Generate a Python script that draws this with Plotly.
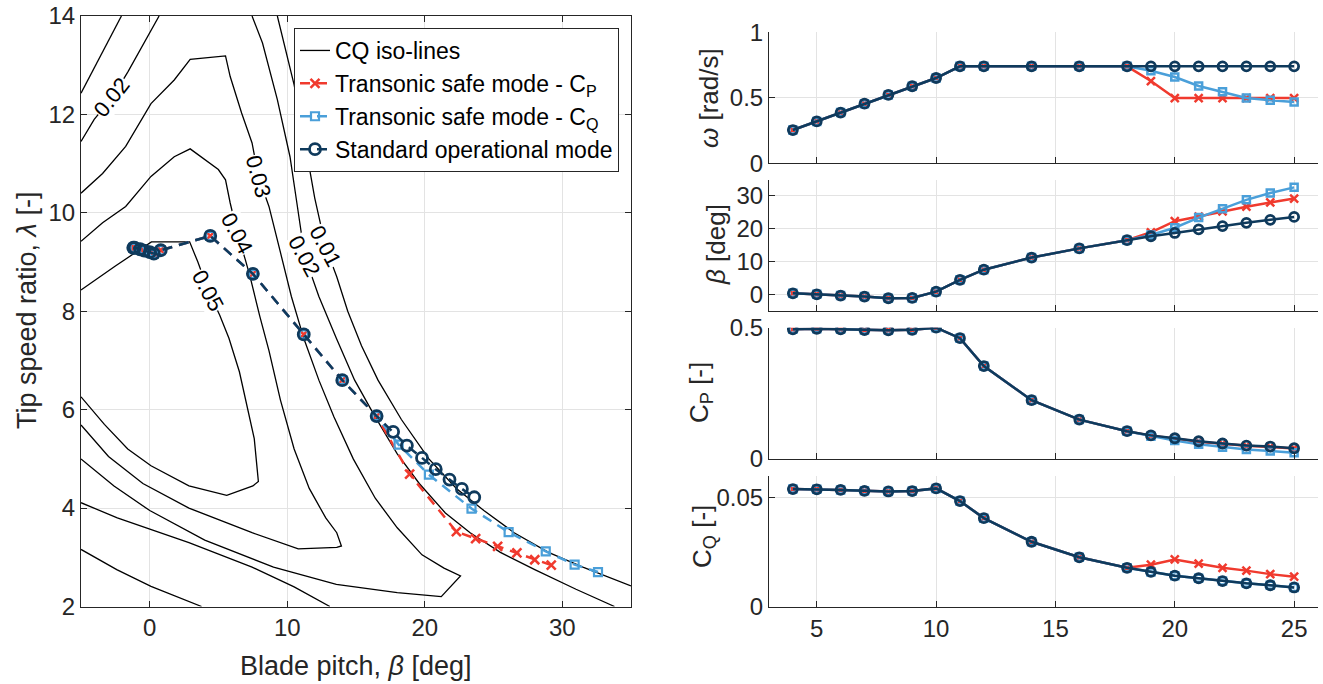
import plotly.graph_objects as go

# ---------------- data ----------------
wind_speed = [4, 5, 6, 7, 8, 9, 10, 11, 12, 14, 16, 18, 19, 20, 21, 22, 23, 24, 25]

omega_std = [0.254, 0.32, 0.387, 0.455, 0.522, 0.588, 0.651, 0.74, 0.74, 0.74, 0.74, 0.74, 0.74, 0.74, 0.74, 0.74, 0.74, 0.74, 0.74]
omega_tcp = [0.254, 0.32, 0.387, 0.455, 0.522, 0.588, 0.651, 0.74, 0.74, 0.74, 0.74, 0.74, 0.628, 0.498, 0.498, 0.498, 0.498, 0.498, 0.498]
omega_tcq = [0.254, 0.32, 0.387, 0.455, 0.522, 0.588, 0.651, 0.74, 0.74, 0.74, 0.74, 0.74, 0.707, 0.659, 0.59, 0.547, 0.499, 0.481, 0.468]

beta_std = [0.3, 0.0, -0.4, -0.7, -1.2, -1.1, 0.8, 4.4, 7.5, 11.2, 14.0, 16.5, 17.7, 18.7, 19.8, 20.8, 21.8, 22.7, 23.6]
beta_tcp = [0.3, 0.0, -0.4, -0.7, -1.2, -1.1, 0.8, 4.4, 7.5, 11.2, 14.0, 16.5, 18.9, 22.3, 23.7, 25.3, 26.7, 28.0, 29.2]
beta_tcq = [0.3, 0.0, -0.4, -0.7, -1.2, -1.1, 0.8, 4.4, 7.5, 11.2, 14.0, 16.5, 18.1, 20.3, 23.4, 26.1, 28.8, 30.9, 32.6]

tsr_std = [9.17, 9.2, 9.23, 9.26, 9.29, 9.29, 9.24, 9.53, 8.76, 7.53, 6.6, 5.87, 5.55, 5.27, 5.02, 4.79, 4.58, 4.39, 4.22]
tsr_tcp = [9.17, 9.2, 9.23, 9.26, 9.29, 9.29, 9.24, 9.53, 8.76, 7.53, 6.6, 5.87, 4.69, 3.52, 3.38, 3.22, 3.09, 2.95, 2.84]
tsr_tcq = [9.17, 9.2, 9.23, 9.26, 9.29, 9.29, 9.24, 9.53, 8.76, 7.53, 6.6, 5.87, 5.29, 4.68, 3.99, 3.51, 3.12, 2.85, 2.7]

cp_std = [0.494, 0.496, 0.494, 0.491, 0.49, 0.492, 0.5, 0.46, 0.354, 0.224, 0.15, 0.106, 0.09, 0.079, 0.0675, 0.059, 0.051, 0.0475, 0.041]
cp_tcp = [0.494, 0.496, 0.494, 0.491, 0.49, 0.492, 0.5, 0.46, 0.354, 0.224, 0.15, 0.106, 0.089, 0.078, 0.066, 0.058, 0.05, 0.046, 0.04]
cp_tcq = [0.494, 0.496, 0.494, 0.491, 0.49, 0.492, 0.5, 0.46, 0.354, 0.224, 0.15, 0.106, 0.087, 0.07, 0.056, 0.045, 0.036, 0.03, 0.024]

cq_std = [0.0538, 0.0537, 0.0534, 0.053, 0.0527, 0.0529, 0.0541, 0.0483, 0.0405, 0.0297, 0.0226, 0.0178, 0.0159, 0.0142, 0.013, 0.0117, 0.0107, 0.0098, 0.0088]
cq_tcp = [0.0538, 0.0537, 0.0534, 0.053, 0.0527, 0.0529, 0.0541, 0.0483, 0.0405, 0.0297, 0.0226, 0.0178, 0.0192, 0.0216, 0.0197, 0.0178, 0.0165, 0.0149, 0.0137]
cq_tcq = [0.0538, 0.0537, 0.0534, 0.053, 0.0527, 0.0529, 0.0541, 0.0483, 0.0405, 0.0297, 0.0226, 0.0178, 0.0159, 0.0142, 0.013, 0.0117, 0.0107, 0.0098, 0.0088]

# CQ iso-lines (blade pitch [deg], tip speed ratio [-])
iso001_left_beta = [-2.06, -3.3, -4.49, -5.0]
iso001_left_tsr = [14.0, 13.33, 12.7, 12.43]
iso002_left_beta = [0.68, -0.4, -1.58, -2.7, -4.04, -5.0]
iso002_left_tsr = [14.0, 13.45, 12.87, 12.35, 11.9, 11.45]
iso003_beta = [-5.0, -3.43, -1.75, 0.09, 1.78, 2.94, 5.51, 5.85, 6.68, 7.44, 7.9, 8.67, 9.5, 10.3, 11.2, 12.3, 13.4, 14.8, 16.4, 18.0, 19.8, 21.4, 22.6, 21.2, 18.0, 13.57, 9.0, 4.0, 0.0, -2.6, -5.0]
iso003_tsr = [10.4, 10.8, 11.35, 12.22, 12.7, 13.12, 13.19, 12.77, 12.03, 11.42, 10.74, 10.13, 9.2, 8.3, 7.45, 6.6, 5.85, 5.0, 4.2, 3.6, 3.05, 2.78, 2.62, 2.2, 2.28, 2.45, 2.8, 3.35, 3.95, 4.45, 5.0]
iso004_beta = [-5.0, -3.43, -1.75, 0.09, 1.78, 2.94, 4.99, 5.51, 5.85, 6.37, 6.96, 7.3, 8.0, 8.67, 9.5, 10.5, 11.6, 12.8, 13.6, 13.94, 13.6, 10.8, 7.44, 2.85, -0.5, -3.0, -5.0]
iso004_tsr = [9.42, 9.8, 10.13, 10.74, 11.14, 11.3, 10.88, 10.67, 10.2, 9.59, 9.04, 8.7, 7.9, 7.2, 6.2, 5.2, 4.4, 3.8, 3.5, 3.23, 3.2, 3.17, 3.5, 4.0, 4.5, 5.05, 5.69]
iso005_beta = [-5.0, -2.5, 0.12, 2.9, 3.5, 4.24, 5.09, 5.76, 6.52, 7.1, 7.6, 7.9, 7.5, 5.6, 2.85, 0.09, -1.6, -3.3, -5.0]
iso005_tsr = [8.43, 8.92, 9.41, 9.41, 9.0, 8.43, 7.92, 7.45, 6.77, 6.0, 5.41, 4.54, 4.45, 4.26, 4.45, 4.86, 5.2, 5.7, 6.26]
iso002_right_beta = [7.44, 8.2, 9.28, 10.2, 10.7, 11.27, 12.3, 13.57, 14.9, 16.3, 18.0, 19.6, 21.5, 23.3, 25.5, 28.0, 31.0, 33.8]
iso002_right_tsr = [14.0, 13.45, 12.3, 11.14, 10.2, 9.12, 8.3, 7.45, 6.6, 5.9, 5.1, 4.5, 3.9, 3.5, 3.1, 2.75, 2.35, 2.0]
iso001_right_beta = [9.28, 9.9, 10.5, 11.3, 12.0, 12.8, 13.6, 14.4, 15.4, 16.6, 18.3, 20.3, 22.3, 24.3, 26.5, 29.0, 31.5, 35.0]
iso001_right_tsr = [14.0, 13.3, 12.6, 11.4, 10.3, 9.3, 8.7, 8.0, 7.3, 6.6, 5.8, 5.0, 4.4, 3.95, 3.5, 3.1, 2.8, 2.42]
iso002_low_beta = [-5.0, -2.36, 2.85, 7.44, 10.5, 13.1]
iso002_low_tsr = [4.11, 3.8, 3.3, 2.8, 2.4, 2.0]
iso001_low_beta = [-5.0, -2.4, 0.09, 3.77]
iso001_low_tsr = [3.16, 2.75, 2.41, 2.0]

clabel_text = ["0.02", "0.03", "0.04", "0.05", "0.02", "0.01"]
clabel_beta = [-2.8, 7.9, 6.37, 4.24, 11.27, 12.8]
clabel_tsr = [12.35, 10.74, 9.59, 8.43, 9.12, 9.32]

# ---------------- style ----------------
W, H = 1323, 684
RED = "#F03A2E"
BLUE = "#4A9FD9"
DARK = "#0F3A5C"
AX = "#262626"
GRID = "#E3E3E3"
FONT = "Liberation Sans, Arial, Helvetica, sans-serif"


def fx(p):
    return p / W


def fy(p):
    return 1 - p / H


fig = go.Figure()

iso_lines = [
    (iso001_left_beta, iso001_left_tsr),
    (iso002_left_beta, iso002_left_tsr),
    (iso003_beta, iso003_tsr),
    (iso004_beta, iso004_tsr),
    (iso005_beta, iso005_tsr),
    (iso002_right_beta, iso002_right_tsr),
    (iso001_right_beta, iso001_right_tsr),
    (iso002_low_beta, iso002_low_tsr),
    (iso001_low_beta, iso001_low_tsr),
]
for i, (bx, ly) in enumerate(iso_lines):
    fig.add_trace(go.Scatter(
        x=bx, y=ly, mode="lines", line=dict(color="black", width=1.3),
        name="CQ iso-lines", legendgroup="iso", showlegend=(i == 0),
        xaxis="x", yaxis="y", hoverinfo="skip"))

dash = "10px,7px"
fig.add_trace(go.Scatter(
    x=beta_tcp, y=tsr_tcp, mode="lines+markers", name="Transonic safe mode - C<sub>P</sub>",
    line=dict(color=RED, width=2.5, dash=dash),
    marker=dict(symbol="x-thin", size=9, line=dict(color=RED, width=2.5)),
    xaxis="x", yaxis="y"))
fig.add_trace(go.Scatter(
    x=beta_tcq, y=tsr_tcq, mode="lines+markers", name="Transonic safe mode - C<sub>Q</sub>",
    line=dict(color=BLUE, width=2.5, dash=dash),
    marker=dict(symbol="square-open", size=8, color=BLUE, line=dict(color=BLUE, width=2.2)),
    xaxis="x", yaxis="y"))
fig.add_trace(go.Scatter(
    x=beta_std, y=tsr_std, mode="lines+markers", name="Standard operational mode",
    line=dict(color=DARK, width=2.5, dash=dash),
    marker=dict(symbol="circle-open", size=11, color=DARK, line=dict(color=DARK, width=2.8)),
    xaxis="x", yaxis="y"))

panels = [(omega_tcp, omega_tcq, omega_std), (beta_tcp, beta_tcq, beta_std),
          (cp_tcp, cp_tcq, cp_std), (cq_tcp, cq_tcq, cq_std)]
for k, (ycp, ycq, ystd) in enumerate(panels):
    xa = "x%d" % (k + 2)
    ya = "y%d" % (k + 2)
    fig.add_trace(go.Scatter(
        x=wind_speed, y=ycp, mode="lines+markers", showlegend=False,
        line=dict(color=RED, width=2.5),
        marker=dict(symbol="x-thin", size=8, line=dict(color=RED, width=2.5)),
        xaxis=xa, yaxis=ya))
    fig.add_trace(go.Scatter(
        x=wind_speed, y=ycq, mode="lines+markers", showlegend=False,
        line=dict(color=BLUE, width=2.5),
        marker=dict(symbol="square-open", size=7, color=BLUE, line=dict(color=BLUE, width=2.5)),
        xaxis=xa, yaxis=ya))
    fig.add_trace(go.Scatter(
        x=wind_speed, y=ystd, mode="lines+markers", showlegend=False,
        line=dict(color=DARK, width=2.5),
        marker=dict(symbol="circle-open", size=9, color=DARK, line=dict(color=DARK, width=2.8)),
        xaxis=xa, yaxis=ya))

axis_common = dict(
    showline=True, linecolor=AX, linewidth=1, ticks="inside", ticklen=6,
    tickcolor=AX, tickwidth=1, showgrid=True, gridcolor=GRID, gridwidth=1,
    zeroline=False, tickfont=dict(family=FONT, size=24, color=AX), automargin=False)

layout = dict(
    width=W, height=H, template="none",
    margin=dict(l=0, r=0, t=0, b=0),
    paper_bgcolor="white", plot_bgcolor="white",
    font=dict(family=FONT, color=AX),
    showlegend=True,
    legend=dict(x=fx(619), y=fy(28), xanchor="right", yanchor="top",
                bgcolor="white", bordercolor=AX, borderwidth=1,
                font=dict(family=FONT, size=23, color="black"),
                tracegroupgap=0, itemwidth=30),
)
layout["xaxis"] = dict(axis_common, domain=[fx(81), fx(631)], range=[-5, 35],
                       tickvals=[0, 10, 20, 30], mirror="ticks", anchor="y")
layout["yaxis"] = dict(axis_common, domain=[fy(606.5), fy(16)], range=[2, 14],
                       tickvals=[2, 4, 6, 8, 10, 12, 14], mirror="ticks", anchor="x")

right_dom_x = [fx(769), fx(1318)]
right_y_px = [(32.3, 163.3), (179.5, 310.7), (327.7, 459.0), (475.5, 606.7)]
right_ranges = [[0, 1], [-5, 35], [0, 0.5], [0, 0.06]]
right_ticks = [([0, 0.5, 1], ["0", "0.5", "1"]), ([0, 10, 20, 30], ["0", "10", "20", "30"]),
               ([0, 0.5], ["0", "0.5"]), ([0, 0.05], ["0", "0.05"])]
for k in range(4):
    top, bot = right_y_px[k]
    layout["xaxis%d" % (k + 2)] = dict(axis_common, domain=right_dom_x, range=[3, 26],
                                      tickvals=[5, 10, 15, 20, 25],
                                      showticklabels=(k == 3), anchor="y%d" % (k + 2))
    layout["yaxis%d" % (k + 2)] = dict(axis_common, domain=[fy(bot), fy(top)],
                                      range=right_ranges[k], tickvals=right_ticks[k][0],
                                      ticktext=right_ticks[k][1], anchor="x%d" % (k + 2))

annotations = []
angles = [-52, 75, 62, 62, 62, 62]
for t, bx, ly, ang in zip(clabel_text, clabel_beta, clabel_tsr, angles):
    annotations.append(dict(x=bx, y=ly, xref="x", yref="y", text=t, showarrow=False,
                            textangle=ang, bgcolor="white", borderpad=0,
                            font=dict(family=FONT, size=22, color="black")))

title_font = dict(family=FONT, size=27, color=AX)
annotations.append(dict(x=fx(27), y=fy(311), xref="paper", yref="paper", showarrow=False,
                        text="Tip speed ratio, <i>λ</i> [-]", textangle=-90, font=title_font,
                        xanchor="center", yanchor="middle"))
annotations.append(dict(x=fx(356), y=fy(666), xref="paper", yref="paper", showarrow=False,
                        text="Blade pitch, <i>β</i> [deg]", font=title_font,
                        xanchor="center", yanchor="middle"))
rt_font = dict(family=FONT, size=26, color=AX)
for text, xp, yp in [("<i>ω</i> [rad/s]", 709, 98), ("<i>β</i> [deg]", 716, 245),
                     ("C<sub>P</sub> [-]", 700, 393), ("C<sub>Q</sub> [-]", 703, 537)]:
    annotations.append(dict(x=fx(xp), y=fy(yp), xref="paper", yref="paper", showarrow=False,
                            text=text, textangle=-90, font=rt_font,
                            xanchor="center", yanchor="middle"))
layout["annotations"] = annotations

fig.update_layout(**layout)
fig.write_html("out.html")
